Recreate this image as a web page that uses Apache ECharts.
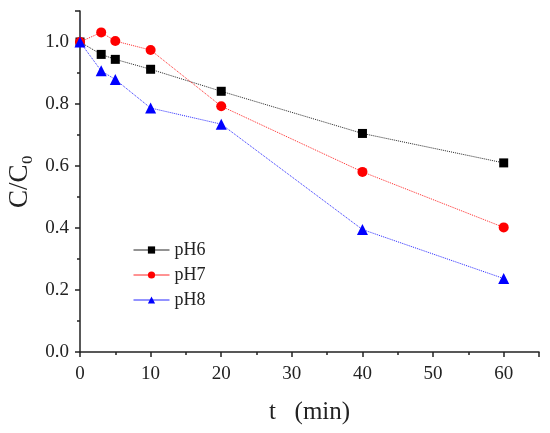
<!DOCTYPE html>
<html>
<head>
<meta charset="utf-8">
<script src="https://cdn.jsdelivr.net/npm/echarts@6/dist/echarts.min.js"></script>
<style>html,body{margin:0;padding:0;background:#fff;}#c{width:550px;height:433px;}</style>
</head>
<body>
<div id="c"></div>
<script>
var times = [0, 3, 5, 10, 20, 40, 60];
var pH6 = [1.0, 0.960, 0.944, 0.912, 0.841, 0.705, 0.610];
var pH7 = [1.0, 1.031, 1.003, 0.974, 0.793, 0.581, 0.402];
var pH8 = [1.0, 0.907, 0.879, 0.787, 0.735, 0.395, 0.237];
var seriesNames = ['pH6', 'pH7', 'pH8'];

function pairs(v) { return times.map(function (t, i) { return [t, v[i]]; }); }

var serif = '"Liberation Serif", "Times New Roman", serif';
var chart = echarts.init(document.getElementById('c'));
function mk(name, data, color, symbol, size) {
  return {
    name: name, type: 'line', data: pairs(data),
    symbol: symbol, symbolSize: size,
    itemStyle: { color: color },
    lineStyle: { color: color, width: 1, type: 'dotted', opacity: 0.85 },
    z: 3
  };
}
chart.setOption({
  animation: false,
  backgroundColor: '#fff',
  grid: { left: 80, right: 11, top: 11, bottom: 81, containLabel: false, outerBoundsMode: 'none' },
  legend: {
    orient: 'vertical', left: 128, top: 236,
    itemWidth: 36, itemHeight: 9, itemGap: 7,
    lineStyle: { type: 'solid', width: 1 },
    textStyle: { fontFamily: serif, fontSize: 18, color: '#222' },
    data: seriesNames
  },
  xAxis: {
    type: 'value', min: 0, max: 65, interval: 10,
    name: 't   (min)', nameLocation: 'middle', nameGap: 48,
    nameTextStyle: { fontFamily: serif, fontSize: 25, color: '#222' },
    axisLine: { show: true, lineStyle: { color: '#222', width: 1.5 } },
    axisTick: { show: true, length: 5, lineStyle: { color: '#222', width: 1.5 } },
    minorTick: { show: true, splitNumber: 2, length: 3, lineStyle: { color: '#222', width: 1.5 } },
    axisLabel: { fontFamily: serif, fontSize: 19, color: '#222', margin: 13, showMaxLabel: false },
    splitLine: { show: false }
  },
  yAxis: {
    type: 'value', min: 0, max: 1.1, interval: 0.2,
    name: 'C/C\u2080', nameLocation: 'middle', nameGap: 47, nameRotate: 90,
    nameTextStyle: { fontFamily: serif, fontSize: 27, color: '#222' },
    axisLine: { show: true, lineStyle: { color: '#222', width: 1.5 } },
    axisTick: { show: true, length: 5, lineStyle: { color: '#222', width: 1.5 } },
    minorTick: { show: true, splitNumber: 2, length: 3, lineStyle: { color: '#222', width: 1.5 } },
    axisLabel: { fontFamily: serif, fontSize: 19, color: '#222', margin: 11, showMaxLabel: false,
      formatter: function (v) { return v.toFixed(1); } },
    splitLine: { show: false }
  },
  series: [
    mk(seriesNames[0], pH6, '#000000', 'rect', 9),
    mk(seriesNames[1], pH7, '#ff0000', 'circle', 10),
    mk(seriesNames[2], pH8, '#0000ff', 'triangle', 11)
  ]
});
</script>
</body>
</html>
